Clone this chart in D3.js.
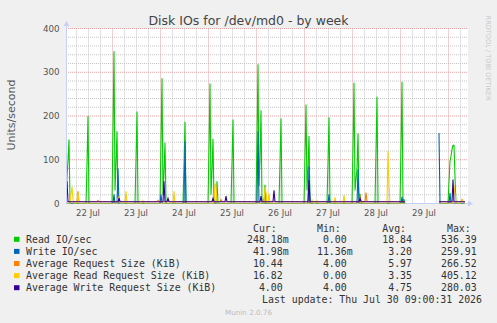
<!DOCTYPE html>
<html>
<head>
<meta charset="utf-8">
<script src="https://cdn.jsdelivr.net/npm/d3@7"></script>
<style>
body { margin: 0; background: #f0f0f0; }
svg { display: block; }
text { font-family: "DejaVu Sans", sans-serif; }
.mono { font-family: "DejaVu Sans Mono", monospace; font-size: 9.9px; fill: #333; white-space: pre; }
</style>
</head>
<body>
<svg width="497" height="323"></svg>
<script>
// points are [hours since 22 Jul 00:00, value]; null value = no data
var readIO = [
  [1,0],[1.5,60],[2,100],[2.5,146],[3,0],
  [11,0],[11.5,90],[12,200],[12.5,0],
  [24,0],[24.5,170],[25,348],[25.5,30],[26,90],[26.5,165],[27,0],
  [35.5,0],[36,100],[36.5,210],[37,0],
  [48,0],[48.5,140],[49,286],[49.5,20],[50,70],[50.5,139],[51,0],
  [59.5,0],[60,90],[60.5,187],[61,0],
  [72,0],[72.5,130],[73,274],[73.5,20],[74,75],[74.5,148],[75,0],[76,0],[76.5,51],[77,0],
  [83.5,0],[84,95],[84.5,192],[85,0],
  [96,0],[96.5,150],[97,318],[97.5,40],[98,100],[98.5,213],[99,0],[100,0],[100.5,43],[101,0],
  [107.5,0],[108,95],[108.5,194],[109,0],
  [120,0],[120.5,110],[121,226],[121.5,30],[122,80],[122.5,154],[123,0],
  [131.5,0],[132,95],[132.5,197],[133,0],
  [144,0],[144.5,130],[145,276],[145.5,30],[146.5,80],[147,160],[147.5,0],[148,22],[148.5,0],
  [155.5,0],[156,120],[156.5,244],[157,0],
  [168,0],[168.5,130],[169,278],[169.5,0],[170,10],[170.5,0],[171,null],
  [187.5,0],[192,0],[192.5,50],[193,97],[193.5,108],[194,124],[194.5,133],[195,133],[195.5,60],[196,0],[200.5,0]
];
var writeIO = [
  [1,0.04],[24.5,0.04],[25,21],[25.5,0.04],[26.5,0.04],[27,80],[27.5,0.04],
  [48,0.04],[48.5,21],[49,0.04],[60,0.04],[60.5,142],[61,0.04],
  [96.5,0.04],[97,165],[97.5,0.04],[122,0.04],[122.5,85],[123,0.04],
  [132,0.04],[132.5,21],[133,0.04],[146.5,0.04],[147,78],[147.5,0.04],
  [168.5,0.04],[169,15],[169.5,0.04],[170.5,0.04],[171,null],
  [187.5,161],[188,0.04],[192.5,0.04],[193,24],[193.5,0.04],[200.5,0.04]
];
var avgReqSize = [
  [1,4],[6.5,4],[7,28],[7.5,4],[16.5,4],[17,7],[17.5,4],[27,4],[27.5,10],[28,4],
  [46.5,4],[47,7],[47.5,4],[78,4],[78.5,9],[79,4],[99.5,4],[100,10],[100.5,4],
  [147.5,4],[148,18],[148.5,4],[150.5,4],[151,25],[151.5,4],[170.5,4],[171,null],
  [187.5,4],[198.5,4],[199,9],[199.5,4],[200.5,4]
];
var avgReadReqSize = [
  [1,0],[3,0],[3.5,20],[4,38],[4.5,10],[5,0],[6.5,0],[7,25],[7.5,0],
  [26.5,0],[27,12],[27.5,15],[28,0],[30.5,0],[31,28],[31.5,0],[39,0],[39.5,6],[40,0],
  [54.5,0],[55,28],[55.5,0],[75,0],[75.5,46],[76,40],[76.5,0],
  [100,0],[100.5,38],[101,25],[101.5,0],[102,0],[102.5,23],[103,0],
  [123.5,0],[124,8],[124.5,0],[126,0],[126.5,6],[127,0],[135,0],[135.5,14],[136,0],
  [139.5,0],[140,19],[140.5,0],[148,0],[148.5,10],[149,0],
  [161.5,0],[162,120],[162.5,40],[163,0],[170.5,0],[171,null],
  [187.5,0],[194.5,0],[195,42],[195.5,20],[196,0],[198.5,0],[199,8],[199.5,6],[200,0],[200.5,0]
];
var avgWriteReqSize = [
  [1,4],[1.5,51],[2,4],[27,4],[27.5,13],[28,4],[49.5,4],[50,51],[50.5,4],[51.5,4],[52,12],[52.5,4],
  [74,4],[74.5,12],[75,4],[80.5,4],[81,17],[81.5,4],[98,4],[98.5,17],[99,4],
  [104.5,4],[105,30],[105.5,4],[122,4],[122.5,53],[123,4],[147.5,4],[148,12],[148.5,4],
  [170.5,4],[171,null],[187.5,4],[194,4],[194.5,55],[195,4],[200.5,4]
];

var seriesNames = ["Read IO/sec", "Write IO/sec", "Average Request Size (KiB)",
  "Average Read Request Size (KiB)", "Average Write Request Size (KiB)"];
var seriesColors = ["#00cc00", "#0066b3", "#ff8000", "#ffcc00", "#330099"];
var curValues = ["248.18m", "41.98m", "10.44", "16.82", "4.00"];
var minValues = ["0.00", "11.36m", "4.00", "0.00", "4.00"];
var avgValues = ["18.84", "3.20", "5.97", "3.35", "4.75"];
var maxValues = ["536.39", "259.91", "266.52", "405.12", "280.03"];
var yTicks = [0, 100, 200, 300, 400];
var dayLabels = ["22 Jul", "23 Jul", "24 Jul", "25 Jul", "26 Jul", "27 Jul", "28 Jul", "29 Jul"];

var allSeries = [readIO, writeIO, avgReqSize, avgReadReqSize, avgWriteReqSize];

var svg = d3.select("svg");
var base = Date.UTC(2026, 6, 22);
function toDate(h) { return new Date(base + h * 3600000); }

var x0 = 66, x1 = 466, yTop = 28.5, yBot = 203.5;
var x = d3.scaleUtc()
    .domain([toDate(1), toDate(201)])
    .range([x0, x1]);
var y = d3.scaleLinear()
    .domain([0, 400])
    .range([yBot, yTop]);

svg.append("rect").attr("width", 497).attr("height", 323).attr("fill", "#f0f0f0");
svg.append("rect")
    .attr("x", x0).attr("y", yTop)
    .attr("width", 402).attr("height", yBot - yTop)
    .attr("fill", "#fff");

var grid = svg.append("g");
var minorX = d3.utcHour.every(6).range(toDate(1), toDate(201)).filter(function(d) { return d.getUTCHours() != 0; });
var majorX = d3.utcDay.range(toDate(1), toDate(201));

grid.selectAll(".vminor").data(minorX).enter().append("line")
    .attr("x1", function(d) { return Math.round(x(d)) + 0.5; })
    .attr("x2", function(d) { return Math.round(x(d)) + 0.5; })
    .attr("y1", yTop).attr("y2", yBot)
    .attr("stroke", "#c4c4c4").attr("stroke-dasharray", "1,1");
grid.selectAll(".hminor").data(y.ticks(20).filter(function(d) { return d % 100 != 0; })).enter().append("line")
    .attr("x1", x0).attr("x2", 468)
    .attr("y1", function(d) { return y(d); })
    .attr("y2", function(d) { return y(d); })
    .attr("stroke", "#c4c4c4").attr("stroke-dasharray", "1,1");
grid.selectAll(".vmajor").data(majorX).enter().append("line")
    .attr("x1", function(d) { return Math.round(x(d)) + 0.5; })
    .attr("x2", function(d) { return Math.round(x(d)) + 0.5; })
    .attr("y1", yTop).attr("y2", yBot)
    .attr("stroke", "#eca0a0").attr("stroke-dasharray", "1,1");
grid.selectAll(".hmajor").data(yTicks.slice(1)).enter().append("line")
    .attr("x1", x0).attr("x2", 468)
    .attr("y1", function(d) { return y(d); })
    .attr("y2", function(d) { return y(d); })
    .attr("stroke", "#eca0a0").attr("stroke-dasharray", "1,1");

svg.append("clipPath").attr("id", "plot")
  .append("rect").attr("x", x0).attr("y", yTop - 2).attr("width", 402).attr("height", yBot - yTop + 2);

// x axis drawn before data so the baselines cover it
svg.append("line")
    .attr("x1", x0).attr("x2", 470)
    .attr("y1", yBot).attr("y2", yBot)
    .attr("stroke", "#c8d0f8");

var line = d3.line()
    .defined(function(d) { return d[1] !== null; })
    .x(function(d) { return x(toDate(d[0])); })
    .y(function(d) { return y(d[1]); });

svg.append("g").attr("clip-path", "url(#plot)")
  .selectAll("path").data(allSeries).enter().append("path")
    .attr("d", line)
    .attr("fill", "none")
    .attr("stroke-width", 1.1)
    .attr("stroke", function(d, i) { return seriesColors[i]; });

svg.append("line")
    .attr("x1", x0 + 0.5).attr("x2", x0 + 0.5)
    .attr("y1", yBot).attr("y2", 25)
    .attr("stroke", "#c8d0f8");
svg.append("path")
    .attr("d", "M" + (x0 - 2.5) + ",26L" + (x0 + 0.5) + ",21L" + (x0 + 3.5) + ",26Z")
    .attr("fill", "#c8d0f8");
svg.append("path")
    .attr("d", "M468," + (yBot - 3) + "L473," + yBot + "L468," + (yBot + 3) + "Z")
    .attr("fill", "#c8d0f8");

svg.selectAll(".ylab").data(yTicks).enter().append("text")
    .attr("x", 59.5)
    .attr("y", function(d) { return y(d) + 3.2; })
    .attr("text-anchor", "end")
    .attr("font-size", "8.7px")
    .attr("fill", "#555")
    .text(function(d) { return d; });

svg.selectAll(".xlab").data(dayLabels).enter().append("text")
    .attr("x", function(d, i) { return x(toDate(i * 24 + 12)); })
    .attr("y", 215.5)
    .attr("text-anchor", "middle")
    .attr("font-size", "8.5px")
    .attr("fill", "#555")
    .text(function(d) { return d; });

svg.append("text")
    .attr("x", 248.5).attr("y", 24.5)
    .attr("text-anchor", "middle")
    .attr("font-size", "12.5px")
    .attr("fill", "#444")
    .text("Disk IOs for /dev/md0 - by week");

svg.append("text")
    .attr("transform", "translate(14.5,115) rotate(-90)")
    .attr("text-anchor", "middle")
    .attr("font-size", "11px")
    .attr("fill", "#555")
    .text("Units/second");

svg.append("text")
    .attr("transform", "translate(486,58) rotate(90)")
    .attr("text-anchor", "middle")
    .attr("font-size", "6.6px")
    .attr("fill", "#c8c8c8")
    .text("RRDTOOL / TOBI OETIKER");

// legend
var cw = 5.96;
var colRight = [282.7, 346.7, 412, 476.7];
var headers = ["Cur:", "Min:", "Avg:", "Max:"];
var cols = [curValues, minValues, avgValues, maxValues];
var rowY = function(i) { return 243 + i * 12.1; };

svg.selectAll(".hdr").data(headers).enter().append("text")
    .attr("class", "mono")
    .attr("x", function(d, i) { return colRight[i] - cw; })
    .attr("y", 231.5)
    .attr("text-anchor", "end")
    .text(function(d) { return d; });

var rows = svg.selectAll(".row").data(seriesNames).enter().append("g");
rows.append("rect")
    .attr("x", 14).attr("y", function(d, i) { return rowY(i) - 6.2; })
    .attr("width", 5.5).attr("height", 5)
    .attr("fill", function(d, i) { return seriesColors[i]; });
rows.append("text")
    .attr("class", "mono")
    .attr("x", 26).attr("y", function(d, i) { return rowY(i); })
    .text(function(d) { return d; });

cols.forEach(function(col, c) {
  col.forEach(function(v, i) {
    var m = v.match(/^([\d.]+)(\D*)$/);
    svg.append("text").attr("class", "mono")
        .attr("x", colRight[c]).attr("y", rowY(i))
        .attr("text-anchor", "end")
        .text(m[1]);
    if (m[2]) {
      svg.append("text").attr("class", "mono")
          .attr("x", colRight[c]).attr("y", rowY(i))
          .text(m[2]);
    }
  });
});

svg.append("text")
    .attr("class", "mono")
    .attr("x", 482).attr("y", 303)
    .attr("text-anchor", "end")
    .text("Last update: Thu Jul 30 09:00:31 2026");

svg.append("text")
    .attr("x", 248.5).attr("y", 315)
    .attr("text-anchor", "middle")
    .attr("font-size", "7.2px")
    .attr("fill", "#bbb")
    .text("Munin 2.0.76");
</script>
</body>
</html>
